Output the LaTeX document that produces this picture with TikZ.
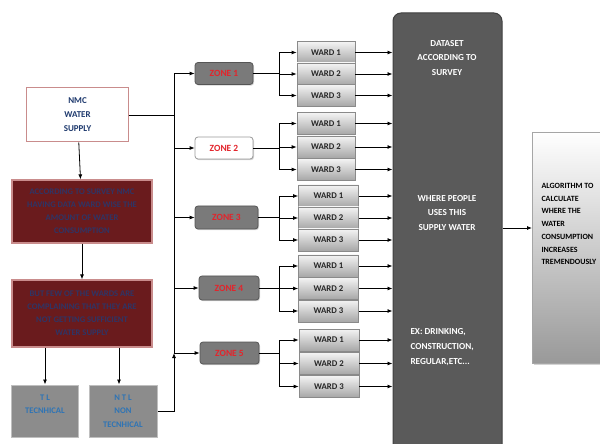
\documentclass[tikz,border=0pt]{standalone}
\usepackage{fontspec}
\setmainfont{Carlito}
\usetikzlibrary{arrows.meta,shadows}
\definecolor{maroon}{HTML}{6A1B1D}
\definecolor{maroonedge}{HTML}{C98C8C}
\definecolor{navy}{HTML}{1F3A6E}
\definecolor{dimnavy}{HTML}{2E3566}
\definecolor{skyblue}{HTML}{2E74B5}
\definecolor{zonered}{HTML}{E3242B}
\definecolor{zonegrey}{HTML}{7A7A7A}
\definecolor{zoneedge}{HTML}{555555}
\definecolor{datagrey}{HTML}{5A5A5A}
\definecolor{edgegrey}{HTML}{8A8A8A}
\definecolor{lossgrey}{HTML}{8C8C8C}
\definecolor{wardtop}{HTML}{F4F4F4}
\definecolor{wardbot}{HTML}{A6A6A6}

\begin{document}
\begin{tikzpicture}[
    x=1bp, y=-1bp,
    supply/.style={
        draw=maroonedge, line width=1bp, fill=white,
        minimum width=101bp, minimum height=54bp,
        font=\bfseries\fontsize{9}{14}\selectfont, text=navy, align=center,
    },
    cond/.style={
        draw=maroonedge, line width=1.2bp, fill=maroon,
        minimum width=140bp, inner sep=0pt,
        font=\bfseries\fontsize{8.6}{13}\selectfont, text=dimnavy, align=center,
    },
    loss/.style={
        draw=black!25, line width=1bp, fill=lossgrey,
        minimum height=52bp, inner sep=0pt,
        font=\bfseries\fontsize{8.6}{13.5}\selectfont, text=skyblue, align=center,
    },
    zone/.style={
        draw=zoneedge, line width=0.8bp, fill=zonegrey, rounded corners=3bp,
        minimum height=22bp, inner sep=0pt,
        drop shadow={opacity=0.35, shadow xshift=1bp, shadow yshift=-1.2bp},
        font=\bfseries\fontsize{9.5}{10}\selectfont, text=zonered,
    },
    ward/.style={
        draw=edgegrey, line width=0.8bp, top color=wardtop, bottom color=wardbot,
        minimum width=#1, minimum height=22bp, inner sep=0pt,
        font=\bfseries\fontsize{8.8}{10}\selectfont, text=black!85,
    },
    ward/.default=58bp,
    datatext/.style={font=\bfseries\fontsize{9.2}{15}\selectfont, text=white, align=center},
    algotext/.style={font=\bfseries\fontsize{8}{12.8}\selectfont, text=black, align=left, anchor=west},
    wire/.style={line width=0.8bp},
    arr/.style={-{Latex[length=5bp,width=4bp]}, line width=0.8bp},
]
\useasboundingbox (0,0) rectangle (600,444);

% ── left column ──
\node[supply] (nmc) at (77.5,115) {NMC\\WATER\\SUPPLY};
\node[cond, minimum height=63bp] (survey) at (82,211.5)
    {ACCORDING TO SURVEY NMC\\HAVING DATA WARD WISE THE\\AMOUNT OF WATER\\CONSUMPTION};
\node[cond, minimum height=67bp] (complain) at (82,313.5)
    {BUT FEW OF THE WARDS ARE\\COMPLAINING THAT THEY ARE\\NOT GETTING SUFFICIENT\\WATER SUPPLY};
\node[loss, minimum width=66bp] (tl) at (45,411) {T L\\TECNHICAL\\~};
\node[loss, minimum width=68bp] (ntl) at (123,411) {N T L\\NON\\TECNHICAL};

% ── zones ──
\node[zone, minimum width=58bp] (zone1) at (224,73.5) {ZONE 1};
\node[zone, minimum width=58bp, fill=white, draw=black!40] (zone2) at (224,148) {ZONE 2};
\node[zone, minimum width=63bp, minimum height=23bp] (zone3) at (226.5,217.5) {ZONE 3};
\node[zone, minimum width=60bp, minimum height=24bp] (zone4) at (229,288) {ZONE 4};
\node[zone, minimum width=59bp] (zone5) at (229.5,353) {ZONE 5};

% ── wards ──
\node[ward] (w11) at (326,52.5) {WARD 1};
\node[ward] (w12) at (326,74) {WARD 2};
\node[ward] (w13) at (326,95.5) {WARD 3};
\node[ward] (w21) at (326,123.5) {WARD 1};
\node[ward] (w22) at (326,147) {WARD 2};
\node[ward] (w23) at (326,169.5) {WARD 3};
\node[ward=60bp] (w31) at (328.5,196) {WARD 1};
\node[ward=60bp] (w32) at (328.5,218) {WARD 2};
\node[ward=60bp] (w33) at (328.5,240) {WARD 3};
\node[ward=60bp] (w41) at (328.5,266) {WARD 1};
\node[ward=60bp] (w42) at (328.5,288.5) {WARD 2};
\node[ward=60bp] (w43) at (328.5,311) {WARD 3};
\node[ward=60bp] (w51) at (329,340) {WARD 1};
\node[ward=60bp] (w52) at (329,363.5) {WARD 2};
\node[ward=60bp] (w53) at (329,386.5) {WARD 3};

% ── dataset and algorithm ──
\node[draw=black!75, line width=1bp, fill=datagrey, rounded corners=8bp,
      minimum width=109bp, minimum height=447bp] (data) at (447.5,236.5) {};
\node[datatext] (datatitle) at (447,58) {DATASET\\ACCORDING TO\\SURVEY};
\node[datatext] (datause) at (447,213) {WHERE PEOPLE\\USES THIS\\SUPPLY WATER};
\node[datatext, align=left, anchor=west] (dataex) at (407,347) {EX: DRINKING,\\CONSTRUCTION,\\REGULAR,ETC...};

\node[draw=black!35, line width=0.8bp, top color=white, middle color=white, bottom color=black!40,
      drop shadow={opacity=0.35, shadow xshift=1.5bp, shadow yshift=-1.5bp},
      minimum width=88bp, minimum height=231bp] (algo) at (576,247.5) {};
\node[algotext] (algotxt) at (538,224)
    {ALGORITHM TO\\CALCULATE\\WHERE THE\\WATER\\CONSUMPTION\\INCREASES\\TREMENDOUSLY};

\coordinate (trunk) at (174,0);
\coordinate (split) at (279,0);
\coordinate (algoin) at (532,228);

% ── left column arrows ──
\draw[arr] (nmc) -- (survey);
\draw[arr] (survey) -- (complain);
\draw[arr] (complain.south -| tl) -- (tl);
\draw[arr] (complain.south -| 119,0) -- (ntl.north -| 119,0);

% ── trunk to zones ──
\draw[wire] (nmc.east) -- (nmc.east -| trunk);
\draw[wire] (zone1.west -| trunk) -- (zone5.west -| trunk);
\draw[arr] (ntl.east) -| (zone5.west -| trunk);
\draw[arr] (zone1.west -| trunk) -- (zone1);
\draw[arr] (zone2.west -| trunk) -- (zone2);
\draw[arr] (zone3.west -| trunk) -- (zone3);
\draw[arr] (zone4.west -| trunk) -- (zone4);
\draw[arr] (zone5.west -| trunk) -- (zone5);

% ── zones to wards ──
\draw[wire] (zone1.east) -- (zone1.east -| split);
\draw[wire] (w11.west -| split) -- (w13.west -| split);
\draw[arr] (w11.west -| split) -- (w11);
\draw[arr] (w12.west -| split) -- (w12);
\draw[arr] (w13.west -| split) -- (w13);

\draw[wire] (zone2.east) -- (zone2.east -| split);
\draw[wire] (w21.west -| split) -- (w23.west -| split);
\draw[arr] (w21.west -| split) -- (w21);
\draw[arr] (w22.west -| split) -- (w22);
\draw[arr] (w23.west -| split) -- (w23);

\draw[wire] (zone3.east) -- (zone3.east -| split);
\draw[wire] (w31.west -| split) -- (w33.west -| split);
\draw[arr] (w31.west -| split) -- (w31);
\draw[arr] (w32.west -| split) -- (w32);
\draw[arr] (w33.west -| split) -- (w33);

\draw[wire] (zone4.east) -- (zone4.east -| split);
\draw[wire] (w41.west -| split) -- (w43.west -| split);
\draw[arr] (w41.west -| split) -- (w41);
\draw[arr] (w42.west -| split) -- (w42);
\draw[arr] (w43.west -| split) -- (w43);

\draw[wire] (zone5.east) -- (zone5.east -| split);
\draw[wire] (w51.west -| split) -- (w53.west -| split);
\draw[arr] (w51.west -| split) -- (w51);
\draw[arr] (w52.west -| split) -- (w52);
\draw[arr] (w53.west -| split) -- (w53);

% ── wards to dataset ──
\draw[arr] (w11) -- (w11 -| data.west);
\draw[arr] (w12) -- (w12 -| data.west);
\draw[arr] (w13) -- (w13 -| data.west);
\draw[arr] (w21) -- (w21 -| data.west);
\draw[arr] (w22) -- (w22 -| data.west);
\draw[arr] (w23) -- (w23 -| data.west);
\draw[arr] (w31) -- (w31 -| data.west);
\draw[arr] (w32) -- (w32 -| data.west);
\draw[arr] (w33) -- (w33 -| data.west);
\draw[arr] (w41) -- (w41 -| data.west);
\draw[arr] (w42) -- (w42 -| data.west);
\draw[arr] (w43) -- (w43 -| data.west);
\draw[arr] (w51) -- (w51 -| data.west);
\draw[arr] (w52) -- (w52 -| data.west);
\draw[arr] (w53) -- (w53 -| data.west);

% ── dataset to algorithm ──
\draw[arr] (data.east |- algoin) -- (algoin);

\end{tikzpicture}
\end{document}
